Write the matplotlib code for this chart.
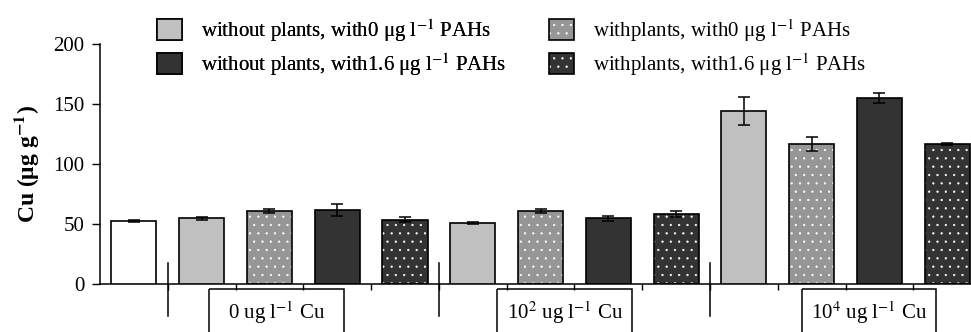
import matplotlib
matplotlib.use("Agg")
import matplotlib.pyplot as plt
from matplotlib.patches import Patch, Rectangle

plt.rcParams['font.family'] = ['Liberation Serif', 'DejaVu Serif']
plt.rcParams['mathtext.fontset'] = 'stix'
plt.rcParams['hatch.linewidth'] = 0.4

# data
treatments = ["control", "wo_0", "w_0", "wo_16", "w_16",
              "wo_0", "w_0", "wo_16", "w_16",
              "wo_0", "w_0", "wo_16", "w_16"]
cu_values = [52.5, 54.7, 60.8, 61.7, 53.6,
             51.1, 60.8, 54.7, 58.3,
             144.2, 116.7, 154.7, 116.7]
cu_errors = [1.2, 1.0, 2.0, 4.9, 2.0,
             0.8, 1.8, 2.0, 2.5,
             11.5, 6.0, 4.2, 1.0]
group_labels = [r"0 ug l$^{-1}$ Cu", r"10$^{2}$ ug l$^{-1}$ Cu", r"10$^{4}$ ug l$^{-1}$ Cu"]
legend_keys = ["wo_0", "wo_16", "w_0", "w_16"]
legend_labels = [r"without plants, with0 μg l$^{-1}$ PAHs",
                 r"without plants, with1.6 μg l$^{-1}$ PAHs",
                 r"withplants, with0 μg l$^{-1}$ PAHs",
                 r"withplants, with1.6 μg l$^{-1}$ PAHs"]

# styles
face = {"control": "white", "wo_0": "#c0c0c0", "w_0": "#969696",
        "wo_16": "#333333", "w_16": "#333333"}
dotted = {"control": False, "wo_0": False, "w_0": True, "wo_16": False, "w_16": True}
separators = [0.5, 4.5, 8.5]
boxes = [(1.11, 3.10), (5.36, 7.35), (9.86, 11.84)]

fig = plt.figure(figsize=(9.71, 3.32), dpi=100)
ax = fig.add_axes([100 / 971, 48 / 332, 871 / 971, 240 / 332])

x = list(range(len(cu_values)))
for i, key in enumerate(treatments):
    if dotted[key]:
        ax.bar(x[i], cu_values[i], width=0.665, color=face[key], edgecolor="white",
               hatch="..", linewidth=0, zorder=2)
        ax.bar(x[i], cu_values[i], width=0.665, fill=False, edgecolor="black",
               linewidth=1.2, zorder=3)
    else:
        ax.bar(x[i], cu_values[i], width=0.665, color=face[key], edgecolor="black",
               linewidth=1.2, zorder=3)
ax.errorbar(x, cu_values, yerr=cu_errors, fmt="none", ecolor="black",
            elinewidth=1.1, capsize=4, capthick=1.1, zorder=4)

ax.set_xlim(-0.5, 12.35)
ax.set_ylim(0, 200)
ax.set_yticks([0, 50, 100, 150, 200])
ax.set_xticks([i + 0.5 for i in range(12)])
ax.set_xticklabels([])
ax.tick_params(axis="y", direction="out", length=6, width=1, labelsize=15, pad=5)
ax.tick_params(axis="x", direction="out", length=4, width=1)
ax.spines["top"].set_visible(False)
ax.spines["right"].set_visible(False)
for s in ["left", "bottom"]:
    ax.spines[s].set_linewidth(1.1)

ax.set_ylabel(r"Cu (μg g$^{\mathbf{-1}}$)", fontsize=17, fontweight="bold")
ax.yaxis.set_label_coords(-0.068, 0.5)

for sx in separators:
    ax.plot([sx, sx], [17.5, -26.7], color="black", lw=1.1, clip_on=False, zorder=5)

for (x0, x1), lab in zip(boxes, group_labels):
    ax.add_patch(Rectangle((x0, -4.2), x1 - x0, -45, fill=False, edgecolor="black",
                           lw=1.1, clip_on=False))
    ax.text((x0 + x1) / 2, -24, lab, ha="center", va="center", fontsize=15)

# legend handles
handles = []
for key in legend_keys:
    if dotted[key]:
        handles.append((Patch(facecolor=face[key], edgecolor="white", hatch="..", linewidth=0),
                        Patch(fill=False, edgecolor="black", linewidth=1.2)))
    else:
        handles.append(Patch(facecolor=face[key], edgecolor="black", linewidth=1.2))

leg_kw = dict(frameon=False, fontsize=15, handlelength=1.2, handleheight=1.15,
              handletextpad=0.9, labelspacing=0.35, borderpad=0, borderaxespad=0,
              loc="upper left")
leg1 = fig.legend(handles[:2], legend_labels[:2], bbox_to_anchor=(157 / 971, 1 - 17 / 332), **leg_kw)
fig.add_artist(leg1)
fig.legend(handles[2:], legend_labels[2:], bbox_to_anchor=(549 / 971, 1 - 17 / 332), **leg_kw)

fig.savefig("out.png", dpi=100)
